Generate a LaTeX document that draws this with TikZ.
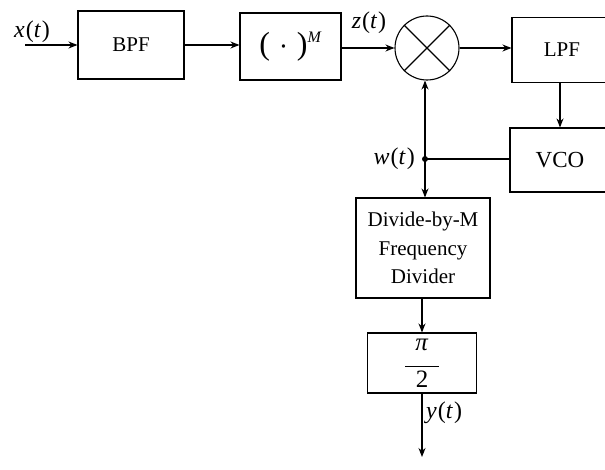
\documentclass[tikz,border=0pt]{standalone}
\usepackage{fix-cm}
\usepackage{amsmath}
\usepackage{fontspec}
\setmainfont{Liberation Serif}
\usetikzlibrary{arrows.meta}
\begin{document}
\begin{tikzpicture}[x=1pt,y=-1pt,
  blk/.style={draw,line width=1.1pt,inner sep=0pt,font=\fontsize{21}{24}\selectfont},
  sig/.style={line width=1.1pt,-{Stealth[length=9pt,width=7pt]}},
  lbl/.style={inner sep=0pt,font=\fontsize{24}{26}\selectfont}]
\useasboundingbox (0,0) rectangle (605,470);
\clip (0,0) rectangle (605,470);
\node[blk,minimum width=106pt,minimum height=68pt] (bpf) at (131,45) {BPF};
\node[blk,minimum width=101pt,minimum height=67pt] (pow) at (290.5,46.5) {\fontsize{32}{34}\selectfont(\hspace{9pt}$\cdot$\hspace{9pt})\raisebox{12pt}{\fontsize{16}{18}\selectfont\textit{M}}};
\node[draw,line width=1.1pt,circle,minimum size=64pt,inner sep=0pt] (mix) at (427,48) {};
\draw[line width=1.1pt] (mix.north west) -- (mix.south east) (mix.north east) -- (mix.south west);
\node[blk,minimum width=100pt,minimum height=65pt] (lpf) at (562,50) {LPF};
\node[blk,minimum width=100pt,minimum height=64pt,font=\fontsize{23}{26}\selectfont] (vco) at (560,160) {VCO};
\node[blk,minimum width=134pt,minimum height=100pt,align=center,font=\fontsize{21}{28.5}\selectfont] (div) at (423,248) {Divide-by-M\\Frequency\\Divider};
\node[blk,minimum width=109pt,minimum height=60pt,align=center,font=\fontsize{25}{17}\selectfont] (pib) at (422,363) {\textit{π}\\\rule{34pt}{1pt}\\[3pt]2};
\coordinate (in) at (25,45);
\coordinate (out) at (422,457);
\coordinate (w) at (425,159);
\fill (w) circle (3pt);
\draw[sig] (in) -- (bpf);
\draw[sig] (bpf.east) -- (pow.west |- bpf.east);
\draw[sig] (pow.east |- mix) -- (mix);
\draw[sig] (mix) -- (lpf.west |- mix);
\draw[sig] (lpf.south -| vco.north) -- (vco.north);
\draw[line width=1.1pt] (vco.west |- w) -- (w);
\draw[sig] (w) -- (mix.south -| w);
\draw[sig] (w) -- (div.north -| w);
\draw[sig] (div.south -| pib) -- (pib.north);
\draw[sig] (pib) -- (out);
\node[lbl,anchor=south] at (32,43) {\textit{x}\kern1pt(\textit{t}\kern1pt)};
\node[lbl,anchor=south] at (369,34) {\textit{z}\kern1pt(\textit{t}\kern1pt)};
\node[lbl,anchor=east] at (415,159) {\textit{w}\kern1pt(\textit{t}\kern1pt)};
\node[lbl,anchor=west] at (426,413) {\textit{y}\kern1pt(\textit{t}\kern1pt)};
\end{tikzpicture}
\end{document}
